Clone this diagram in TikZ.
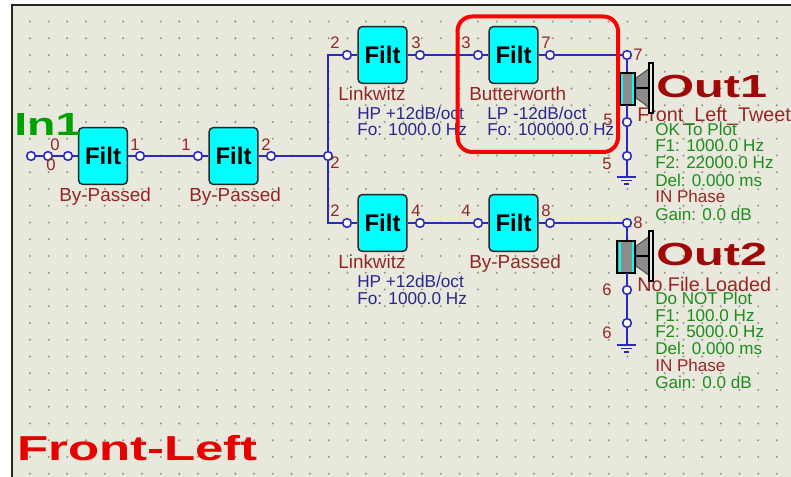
\documentclass[tikz,border=0pt]{standalone}
\usepackage{graphicx}
\usepackage{fontspec}
\setmainfont{Liberation Sans}
\definecolor{panel}{HTML}{E8E8DC}
\definecolor{griddot}{HTML}{94948E}
\definecolor{wire}{HTML}{2A2ABE}
\definecolor{darkred}{HTML}{962626}
\definecolor{navy}{HTML}{28288C}
\definecolor{plotgreen}{HTML}{1E8C1E}
\definecolor{outred}{HTML}{A00808}
\definecolor{filtcyan}{HTML}{00FFFF}
\newcommand{\fs}[1]{\fontsize{#1}{#1}\selectfont}
\tikzset{
  x=0.75pt,y=-0.75pt,
  filt/.style={draw=black!85,line width=1.1pt,fill=filtcyan,rounded corners=3pt,minimum width=36.5pt,minimum height=42.5pt,inner sep=0pt,font=\fs{18pt}\bfseries,text=black},
  pin/.style={circle,draw=wire,fill=white,line width=1.2pt,minimum size=6.5pt,inner sep=0pt},
  wirel/.style={draw=wire,line width=1.3pt},
  num/.style={text=darkred,font=\fs{12.5pt},inner sep=0pt},
  namelbl/.style={anchor=base west,text=darkred,font=\fs{14.2pt},inner sep=0pt},
  outname/.style={anchor=base west,text=darkred,font=\fs{14.8pt},inner sep=0pt},
  navylbl/.style={anchor=base west,text=navy,font=\fs{12.9pt},inner sep=0pt},
  greenlbl/.style={anchor=base west,text=plotgreen,font=\fs{12.8pt},inner sep=0pt},
  phaselbl/.style={anchor=base west,text=darkred,font=\fs{12.8pt},inner sep=0pt},
  biglbl/.style={anchor=base west,inner sep=0pt,font=\fs{24pt}\bfseries},
}
\newcommand{\speaker}[5]{% dy, top name, bottom name, left edge, left stripe
  \begin{scope}[yshift=-#1*0.75pt]
    \filldraw[draw=black!70,line width=0.7pt,fill=black!45] (636,78) -- (650,68) -- (650,108) -- (636,98) -- cycle;
    \draw[black,line width=1pt] (636,88) -- (650,88);
    \filldraw[draw=black,line width=1pt,fill=white!92!black] (649,63) rectangle (653,113);
    \filldraw[draw=black,line width=1.5pt,fill=black!45] (#4,73) rectangle (635,105);
    \draw[filtcyan,line width=1.5pt] (#5,74) -- (#5,104) (633,74) -- (633,104);
    \coordinate (#2) at (627,72);
    \coordinate (#3) at (627,105);
  \end{scope}}
\begin{document}
\begin{tikzpicture}
\useasboundingbox (0,0) rectangle (791,477);
\clip (0,0) rectangle (791,477);
\fill[white] (0,0) rectangle (791,477);
\fill[panel] (11,4) rectangle (791,477);
\draw[black!85,line width=1.5pt] (11.5,477) -- (11.5,4.8) -- (791,4.8);
\foreach \i in {0,...,40} \foreach \j in {0,...,27}
  \fill[griddot] ({30+18.67*\i},{21.5+16.75*\j}) circle (0.85pt);

% filters
\node[filt] (f1) at (103,156) {Filt};
\node[filt] (f2) at (233.5,156) {Filt};
\node[filt] (f3) at (382.5,55) {Filt};
\node[filt] (f4) at (513.5,55) {Filt};
\node[filt] (f5) at (382.5,223) {Filt};
\node[filt] (f6) at (513.5,223) {Filt};

% pins
\node[pin] (in0) at (31,156) {};
\node[pin] (in1) at (48,156) {};
\node[pin] (a1) at (68,156) {};
\node[pin] (a2) at (140,156) {};
\node[pin] (b1) at (198,156) {};
\node[pin] (b2) at (271,156) {};
\node[pin] (jn) at (328,156) {};
\node[pin] (c1) at (347,55) {};
\node[pin] (c2) at (420,55) {};
\node[pin] (d1) at (478,55) {};
\node[pin] (d2) at (550,55) {};
\node[pin] (e1) at (347,223) {};
\node[pin] (e2) at (420,223) {};
\node[pin] (g1) at (478,223) {};
\node[pin] (g2) at (550,223) {};
\node[pin] (o1) at (627,55) {};
\node[pin] (o1a) at (627,122) {};
\node[pin] (o1b) at (627,156) {};
\node[pin] (o2) at (627,223) {};
\node[pin] (o2a) at (627,290) {};
\node[pin] (o2b) at (627,323) {};
\coordinate (gnd1) at (627,177);
\coordinate (gnd2) at (627,345);

% labels under the speakers
\node[outname] (t1) at (637,122) {Front\_Left\_Tweet};
\node[outname] (t2) at (637,291) {No File Loaded};

% speakers
\speaker{0}{s1t}{s1b}{620}{622}
\speaker{168}{s2t}{s2b}{617}{620}

% wires
\draw[wirel] (in0) -- (in1);
\draw[wirel] (in1) -- (a1);
\draw[wirel] (a1) -- (f1);
\draw[wirel] (f1) -- (a2);
\draw[wirel] (a2) -- (b1);
\draw[wirel] (b1) -- (f2);
\draw[wirel] (f2) -- (b2);
\draw[wirel] (b2) -- (jn);
\draw[wirel] (jn) |- (c1);
\draw[wirel] (jn) |- (e1);
\draw[wirel] (c1) -- (f3);
\draw[wirel] (f3) -- (c2);
\draw[wirel] (c2) -- (d1);
\draw[wirel] (d1) -- (f4);
\draw[wirel] (f4) -- (d2);
\draw[wirel] (d2) -- (o1);
\draw[wirel] (e1) -- (f5);
\draw[wirel] (f5) -- (e2);
\draw[wirel] (e2) -- (g1);
\draw[wirel] (g1) -- (f6);
\draw[wirel] (f6) -- (g2);
\draw[wirel] (g2) -- (o2);
\draw[wirel] (o1) -- (s1t);
\draw[wirel] (s1b) -- (o1a);
\draw[wirel] (o1a) -- (o1b);
\draw[wirel] (o1b) -- (gnd1);
\draw[wirel] (o2) -- (s2t);
\draw[wirel] (s2b) -- (o2a);
\draw[wirel] (o2a) -- (o2b);
\draw[wirel] (o2b) -- (gnd2);
\draw[wirel] ([xshift=-7.5pt]gnd1) -- ([xshift=6.5pt]gnd1);
\draw[wirel] ([xshift=-4.5pt,yshift=-2.7pt]gnd1) -- ([xshift=4pt,yshift=-2.7pt]gnd1);
\draw[wirel] ([xshift=-2pt,yshift=-5.4pt]gnd1) -- ([xshift=1.5pt,yshift=-5.4pt]gnd1);
\draw[wirel] ([xshift=-7.5pt]gnd2) -- ([xshift=6.5pt]gnd2);
\draw[wirel] ([xshift=-4.5pt,yshift=-2.7pt]gnd2) -- ([xshift=4pt,yshift=-2.7pt]gnd2);
\draw[wirel] ([xshift=-2pt,yshift=-5.4pt]gnd2) -- ([xshift=1.5pt,yshift=-5.4pt]gnd2);

% pin numbers
\node[num] (n1) at (55,145) {0};
\node[num] (n2) at (51,165) {0};
\node[num] (n3) at (135,145) {1};
\node[num] (n4) at (186,145) {1};
\node[num] (n5) at (266,145) {2};
\node[num] (n6) at (335,163) {2};
\node[num] (n7) at (335,43) {2};
\node[num] (n8) at (416,43) {3};
\node[num] (n9) at (466,43) {3};
\node[num] (n10) at (546,43) {7};
\node[num] (n11) at (638,55) {7};
\node[num] (n12) at (608,120) {5};
\node[num] (n13) at (607,164) {5};
\node[num] (n14) at (335,211) {2};
\node[num] (n15) at (416,211) {4};
\node[num] (n16) at (466,211) {4};
\node[num] (n17) at (546,211) {8};
\node[num] (n18) at (638,223) {8};
\node[num] (n19) at (607,290) {6};
\node[num] (n20) at (607,333) {6};

% names under the filters
\node[namelbl] (l1) at (59,201) {By-Passed};
\node[namelbl] (l2) at (189,201) {By-Passed};
\node[namelbl] (l3) at (338,101) {Linkwitz};
\node[namelbl] (l4) at (469,101) {Butterworth};
\node[namelbl] (l5) at (338,268) {Linkwitz};
\node[namelbl] (l6) at (469,268) {By-Passed};
\node[navylbl] (h1) at (357,120) {HP +12dB/oct};
\node[navylbl] (h2) at (357,136) {Fo: 1000.0 Hz};
\node[navylbl] (h3) at (487,120) {LP -12dB/oct};
\node[navylbl] (h4) at (487,136) {\scalebox{0.985}[1]{Fo: 100000.0 Hz}};
\node[navylbl] (h5) at (357,287) {HP +12dB/oct};
\node[navylbl] (h6) at (357,304) {Fo: 1000.0 Hz};

% output data
\node[greenlbl] (a01) at (655,136) {OK To Plot};
\node[greenlbl] (a02) at (655,152) {F1: 1000.0 Hz};
\node[greenlbl] (a03) at (655,169) {F2: 22000.0 Hz};
\node[greenlbl] (a04) at (655,186) {Del: 0.000 ms};
\node[phaselbl] (a05) at (655,203) {IN Phase};
\node[greenlbl] (a06) at (655,220) {Gain: 0.0 dB};
\node[greenlbl] (b01) at (655,304) {Do NOT Plot};
\node[greenlbl] (b02) at (655,321) {F1: 100.0 Hz};
\node[greenlbl] (b03) at (655,337) {F2: 5000.0 Hz};
\node[greenlbl] (b04) at (655,354) {Del: 0.000 ms};
\node[phaselbl] (b05) at (655,371) {IN Phase};
\node[greenlbl] (b06) at (655,388) {Gain: 0.0 dB};

% big titles
\node[biglbl,text=outred] (out1) at (656,98) {\scalebox{1.52}[1]{Out1}};
\node[biglbl,text=outred] (out2) at (656,265) {\scalebox{1.52}[1]{Out2}};
\node[biglbl,text={rgb,255:red,0;green,160;blue,0}] (inn) at (14,136) {\scalebox{1.45}[1]{In1}};
\node[biglbl,font=\fs{26pt}\bfseries,text={rgb,255:red,230;green,0;blue,0}] (fl) at (17,460) {\scalebox{1.47}[1]{Front-Left}};

% highlight
\draw[red,line width=3pt,rounded corners=11pt] (457.5,16.5) rectangle (618,152);
\end{tikzpicture}
\end{document}
